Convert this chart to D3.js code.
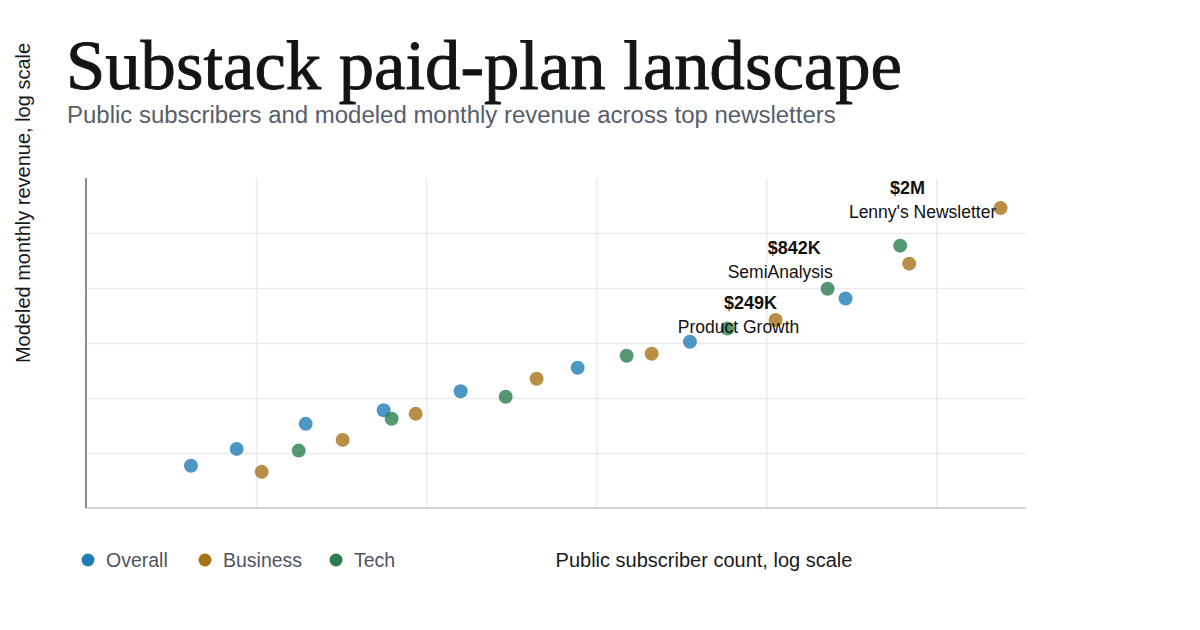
<!DOCTYPE html>
<html>
<head>
<meta charset="utf-8">
<script src="https://cdn.jsdelivr.net/npm/d3@7"></script>
<style>
  body { margin: 0; background: #fff; }
  svg { display: block; font-family: "Liberation Sans", Arial, Helvetica, sans-serif; }
</style>
</head>
<body>
<div id="chart"></div>
<script>
// categories and series (subscribers, modeled monthly revenue in USD)
var categories = ["Overall", "Business", "Tech"];
var colors = ["#1f7db4", "#a87219", "#2a7d50"];

var overallSubs = [2035, 2773, 4424, 7502, 12630, 27880, 59630, 171000];
var overallRevenue = [5300, 7800, 13900, 19000, 29400, 50600, 92000, 249000];
var businessSubs = [3285, 5682, 9314, 21120, 46020, 106500, 263100, 488300];
var businessRevenue = [4600, 9600, 17500, 39300, 69800, 152000, 556000, 2000000];
var techSubs = [4220, 7916, 17130, 38850, 76930, 151400, 247500];
var techRevenue = [7500, 15600, 25900, 66700, 125000, 312000, 842000];

// the labelled newsletters (top of each category)
var labelNames = ["Product Growth", "Lenny's Newsletter", "SemiAnalysis"];
var labelValues = ["$249K", "$2M", "$842K"];
var labelCategories = ["Overall", "Business", "Tech"];

var xDomain = [1000, 580000];
var yDomain = [2000, 4000000];

var width = 1200, height = 630;
var margin = {top: 178, right: 174, bottom: 122, left: 86};

var svg = d3.select("#chart").append("svg")
    .attr("width", width)
    .attr("height", height);

var x = d3.scaleLog().domain(xDomain).range([margin.left, width - margin.right]);
var y = d3.scaleLog().domain(yDomain).range([height - margin.bottom, margin.top]);

var seriesSubs = [overallSubs, businessSubs, techSubs];
var seriesRevenue = [overallRevenue, businessRevenue, techRevenue];

// grid lines: half-decade steps on x, six even log steps on y
var xGrid = d3.range(3.5, 5.6, 0.5).map(function(p) { return Math.pow(10, p); });
var yLo = Math.log10(yDomain[0]), yHi = Math.log10(yDomain[1]);
var yGrid = d3.range(1, 6).map(function(k) { return Math.pow(10, yLo + (yHi - yLo) * k / 6); });

svg.append("g")
    .attr("transform", "translate(0," + (height - margin.bottom) + ")")
    .call(d3.axisBottom(x).tickValues(xGrid).tickSize(-(height - margin.top - margin.bottom)).tickFormat(""))
    .call(function(g) {
        g.select(".domain").remove();
        g.selectAll(".tick line").attr("stroke", "#ebebee").attr("stroke-width", 1.5);
    });

svg.append("g")
    .attr("transform", "translate(" + margin.left + ",0)")
    .call(d3.axisLeft(y).tickValues(yGrid).tickSize(-(width - margin.left - margin.right)).tickFormat(""))
    .call(function(g) {
        g.select(".domain").remove();
        g.selectAll(".tick line").attr("stroke", "#ebebee").attr("stroke-width", 1.5);
    });

// axis lines
svg.append("line")
    .attr("x1", margin.left).attr("x2", width - margin.right)
    .attr("y1", height - margin.bottom).attr("y2", height - margin.bottom)
    .attr("stroke", "#d2d5d9").attr("stroke-width", 2);
svg.append("line")
    .attr("x1", margin.left).attr("x2", margin.left)
    .attr("y1", margin.top).attr("y2", height - margin.bottom)
    .attr("stroke", "#8c8c8c").attr("stroke-width", 2);

// points
categories.forEach(function(cat, i) {
    var pts = seriesSubs[i].map(function(s, j) { return [s, seriesRevenue[i][j]]; });
    svg.append("g").selectAll("circle")
        .data(pts)
        .enter()
        .append("circle")
        .attr("cx", function(d) { return x(d[0]); })
        .attr("cy", function(d) { return y(d[1]); })
        .attr("r", 7)
        .attr("fill", colors[i])
        .attr("fill-opacity", 0.8);
});

// labels, offset from their point
var labelOffsets = {
    "Product Growth": {vx: -95, vy: 10.5, nx: -107, ny: 34.5},
    "Lenny's Newsletter": {vx: -93, vy: -14, nx: -78, ny: 10},
    "SemiAnalysis": {vx: -106, vy: 8, nx: -120, ny: 32}
};
labelNames.forEach(function(name, i) {
    var ci = categories.indexOf(labelCategories[i]);
    var last = seriesSubs[ci].length - 1;
    var px = x(seriesSubs[ci][last]), py = y(seriesRevenue[ci][last]);
    var o = labelOffsets[name];
    svg.append("text")
        .attr("x", px + o.vx).attr("y", py + o.vy)
        .attr("text-anchor", "middle")
        .attr("font-size", 18).attr("font-weight", "bold").attr("fill", "#111")
        .text(labelValues[i]);
    svg.append("text")
        .attr("x", px + o.nx).attr("y", py + o.ny)
        .attr("text-anchor", "middle")
        .attr("font-size", 17.5).attr("fill", "#111")
        .text(name);
});

// fit a text to a target width
function fitWidth(sel, target) {
    var w = sel.node().getComputedTextLength();
    var fs = parseFloat(sel.attr("font-size"));
    sel.attr("font-size", fs * target / w);
}

var title = svg.append("text")
    .attr("x", 66).attr("y", 89)
    .attr("font-family", "Georgia, 'Liberation Serif', serif")
    .attr("font-size", 64).attr("fill", "#141414")
    .attr("stroke", "#141414").attr("stroke-width", 0.9)
    .text("Substack paid-plan landscape");
fitWidth(title, 836);

var subtitle = svg.append("text")
    .attr("x", 67).attr("y", 123)
    .attr("font-size", 21).attr("fill", "#575e6b")
    .text("Public subscribers and modeled monthly revenue across top newsletters");
fitWidth(subtitle, 769);

// axis titles
svg.append("text")
    .attr("transform", "translate(30,203) rotate(-90)")
    .attr("text-anchor", "middle")
    .attr("font-size", 20).attr("fill", "#1a1a1a")
    .text("Modeled monthly revenue, log scale");

svg.append("text")
    .attr("x", 704).attr("y", 567)
    .attr("text-anchor", "middle")
    .attr("font-size", 20).attr("fill", "#1a1a1a")
    .text("Public subscriber count, log scale");

// legend
var legendX = [88, 205, 336];
var legend = svg.append("g").selectAll("g")
    .data(categories)
    .enter()
    .append("g")
    .attr("transform", function(d, i) { return "translate(" + legendX[i] + ",560)"; });
legend.append("circle")
    .attr("r", 6.5)
    .attr("fill", function(d, i) { return colors[i]; });
legend.append("text")
    .attr("x", 18).attr("y", 6.5)
    .attr("font-size", 19.5).attr("fill", "#4e5462")
    .text(function(d) { return d; });
</script>
</body>
</html>
